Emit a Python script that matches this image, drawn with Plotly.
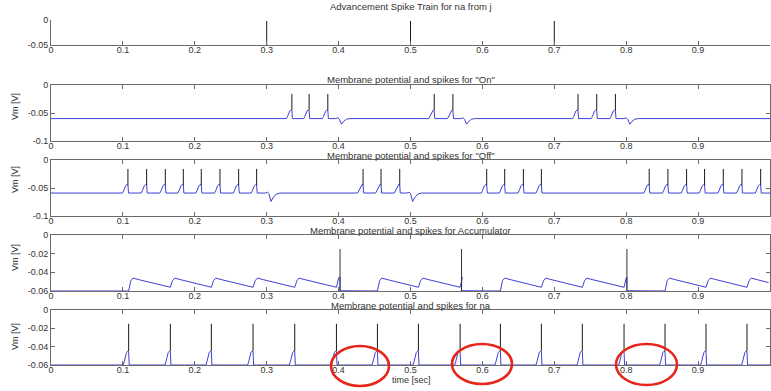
import plotly.graph_objects as go

# ------------------------------------------------------------------ data
x_tick_vals = [0, 0.1, 0.2, 0.3, 0.4, 0.5, 0.6, 0.7, 0.8, 0.9]
x_tick_text = ["0", "0.1", "0.2", "0.3", "0.4", "0.5", "0.6", "0.7", "0.8", "0.9"]

titles = [
    "Advancement Spike Train for na from j",
    "Membrane potential and spikes for \"On\"",
    "Membrane potential and spikes for \"Off\"",
    "Membrane potential and spikes for Accumulator",
    "Membrane potential and spikes for na",
]

adv_spikes = [0.3, 0.5, 0.7]

on_spikes = [0.335, 0.359, 0.385, 0.533, 0.559, 0.733, 0.759, 0.785]
on_dips = [0.404, 0.578, 0.805]

off_spikes = [0.107, 0.133, 0.159, 0.184, 0.209, 0.235, 0.261, 0.286,
              0.434, 0.459, 0.485,
              0.606, 0.631, 0.657, 0.682,
              0.832, 0.858, 0.884, 0.909, 0.935, 0.961, 0.987]
off_dips = [0.306, 0.503]

na_spikes = [0.108, 0.166, 0.223, 0.281, 0.339, 0.397, 0.454, 0.511,
             0.569, 0.625, 0.682, 0.739, 0.797, 0.854, 0.911, 0.968]
na_hump_start = [0.415, 0.589, 0.815]
na_hump_end = [0.437, 0.610, 0.846]

acc_spikes = [0.402, 0.571, 0.801]

# levels
rest_v = -0.06
adv_base, adv_top = -0.05, -0.002
onoff_spike_top = -0.016
acc_spike_top = -0.015
na_spike_top = -0.015
bump_peak = -0.045

# waveform shapes (offsets from event time, values)
bump_dt = [-0.0075, -0.006, -0.0045, -0.003, -0.0015, 0.0, 0.0008]
bump_v = [-0.060, -0.056, -0.050, -0.0465, -0.045, -0.0455, -0.060]
dip_dt = [-0.008, -0.005, -0.003, 0.0, 0.003, 0.007, 0.012]
on_dip_v = [-0.060, -0.0585, -0.061, -0.070, -0.065, -0.061, -0.060]
off_dip_v = [-0.059, -0.0575, -0.060, -0.074, -0.067, -0.061, -0.059]
acc_dt = [0.003, 0.006, 0.015, 0.03, 0.045, 0.054]
acc_v = [-0.049, -0.0462, -0.048, -0.051, -0.054, -0.0558]
acc_valley = -0.056
acc_reset = -0.0597
hump_v = -0.0593

# ------------------------------------------------------------------ builders
def trace_from_events(base, events):
    events = sorted(events, key=lambda e: e[0])
    xs, ys = [0.0], [base]
    for t0, dts, vs in events:
        for dt, v in zip(dts, vs):
            xs.append(t0 + dt)
            ys.append(v)
    xs.append(1.0)
    ys.append(base)
    return xs, ys


def spike_lines(times, lo, hi):
    xs, ys = [], []
    for t in times:
        xs += [t, t, None]
        ys += [lo, hi, None]
    return xs, ys


on_x, on_y = trace_from_events(
    rest_v,
    [(t, bump_dt, bump_v) for t in on_spikes] + [(t, dip_dt, on_dip_v) for t in on_dips])

off_bump_v = [v + 0.001 for v in bump_v]
off_x, off_y = trace_from_events(
    -0.059,
    [(t, bump_dt, off_bump_v) for t in off_spikes] + [(t, dip_dt, off_dip_v) for t in off_dips])

na_events = [(t, bump_dt, bump_v) for t in na_spikes]
for a, b in zip(na_hump_start, na_hump_end):
    na_events.append((a, [0.0, 0.002, b - a - 0.002, b - a],
                      [rest_v, hump_v, hump_v, rest_v]))
na_x, na_y = trace_from_events(rest_v, na_events)

# accumulator
acc_x, acc_y = [0.0], [rest_v]
level = rest_v
for i, r in enumerate(na_spikes):
    nxt = na_spikes[i + 1] if i + 1 < len(na_spikes) else 1.0
    acc_x.append(r)
    acc_y.append(level)
    fire = [s for s in acc_spikes if r <= s < nxt]
    if fire:
        s = fire[0]
        acc_x += [r + 0.003, s, s, s + 0.038, s + 0.0385, nxt]
        acc_y += [acc_v[1] + 0.0003, bump_peak, acc_reset, acc_reset, rest_v, rest_v]
        level = rest_v
    else:
        for dt, v in zip(acc_dt, acc_v):
            if r + dt <= 1.0:
                acc_x.append(r + dt)
                acc_y.append(v)
        if nxt < 1.0:
            acc_x.append(nxt)
            acc_y.append(acc_valley)
        level = acc_valley

# ------------------------------------------------------------------ figure
W, H = 771, 391
ML, MR = 51, 1
PW = W - ML - MR

# subplot vertical extents in pixels (top, bottom)
px_dom = [(20, 45), (85, 141), (160, 216), (235, 291), (310, 365)]
y_ranges = [[-0.05, 0], [-0.1, 0], [-0.1, 0], [-0.06, 0], [-0.06, 0]]
y_ticks = [[-0.05, 0], [-0.1, -0.05, 0], [-0.1, -0.05, 0],
           [-0.06, -0.04, -0.02, 0], [-0.06, -0.04, -0.02, 0]]
y_ticktext = [["-0.05", "0"], ["-0.1", "-0.05", "0"], ["-0.1", "-0.05", "0"],
              ["-0.06", "-0.04", "-0.02", "0"], ["-0.06", "-0.04", "-0.02", "0"]]
title_cy = [7, 80, 155, 230, 305]
ylab_cy = [None, 107, 180, 258, 337]


def py(p):
    return 1 - p / H


def pxp(p):
    return (p - ML) / PW


BLUE = "#3f3fd6"
BLACK = "#1a1a1a"
AX = "#6a6a6a"
TXT = "#333333"
FONT = "Liberation Sans, Arial, Helvetica, sans-serif"

fig = go.Figure()


def add(x, y, idx, color, width=1.0):
    fig.add_trace(go.Scatter(x=x, y=y, mode="lines",
                             line=dict(color=color, width=width),
                             xaxis="x" if idx == 1 else f"x{idx}",
                             yaxis="y" if idx == 1 else f"y{idx}",
                             hoverinfo="skip", showlegend=False))


sx, sy = spike_lines(adv_spikes, adv_base, adv_top)
add(sx, sy, 1, BLACK)

add(on_x, on_y, 2, BLUE)
sx, sy = spike_lines(on_spikes, bump_peak, onoff_spike_top)
add(sx, sy, 2, BLACK)

add(off_x, off_y, 3, BLUE)
sx, sy = spike_lines(off_spikes, bump_peak, onoff_spike_top)
add(sx, sy, 3, BLACK)

add(acc_x, acc_y, 4, BLUE)
sx, sy = spike_lines(acc_spikes, rest_v, acc_spike_top)
add(sx, sy, 4, "#333333")

add(na_x, na_y, 5, BLUE)
sx, sy = spike_lines(na_spikes, bump_peak, na_spike_top)
add(sx, sy, 5, BLACK)

layout = dict(
    width=W, height=H,
    margin=dict(l=ML, r=MR, t=0, b=0, pad=0),
    paper_bgcolor="white", plot_bgcolor="white",
    template="none",
    showlegend=False,
    font=dict(family=FONT, size=9, color=TXT),
)

annotations = []
for i in range(5):
    k = i + 1
    xa = "xaxis" if k == 1 else f"xaxis{k}"
    ya = "yaxis" if k == 1 else f"yaxis{k}"
    top, bot = px_dom[i]
    mirror = False if k == 1 else "ticks"
    layout[xa] = dict(
        domain=[0, 1], range=[0, 1], anchor="y" if k == 1 else f"y{k}",
        tickvals=x_tick_vals, ticktext=x_tick_text,
        ticks="inside", ticklen=4, tickcolor=AX, tickwidth=1,
        showline=True, linecolor=AX, linewidth=1, mirror=mirror,
        showgrid=False, zeroline=False, automargin=False,
        ticklabelstandoff=-4,
        tickfont=dict(family=FONT, size=9, color=TXT), fixedrange=True,
    )
    layout[ya] = dict(
        domain=[py(bot), py(top)], range=y_ranges[i],
        anchor="x" if k == 1 else f"x{k}",
        tickvals=y_ticks[i], ticktext=y_ticktext[i],
        ticks="inside", ticklen=4, tickcolor=AX, tickwidth=1,
        showline=True, linecolor=AX, linewidth=1, mirror=mirror,
        showgrid=False, zeroline=False, automargin=False,
        tickfont=dict(family=FONT, size=9, color=TXT), fixedrange=True,
    )
    annotations.append(dict(
        text=titles[i], xref="paper", yref="paper", x=0.5, y=py(title_cy[i]),
        xanchor="center", yanchor="middle", showarrow=False,
        font=dict(family=FONT, size=9.5, color=TXT)))
    if ylab_cy[i] is not None:
        annotations.append(dict(
            text="Vm [V]", xref="paper", yref="paper", x=pxp(15), y=py(ylab_cy[i]),
            xanchor="center", yanchor="middle", textangle=-90, showarrow=False,
            font=dict(family=FONT, size=9, color=TXT)))

annotations.append(dict(
    text="time [sec]", xref="paper", yref="paper", x=pxp(411), y=py(380),
    xanchor="center", yanchor="middle", showarrow=False,
    font=dict(family=FONT, size=9, color=TXT)))

layout["annotations"] = annotations

# red hand-drawn circles (pixel boxes)
circles_px = [(331, 346, 389, 386), (452, 344, 512, 384), (616, 344, 677, 385)]
layout["shapes"] = [
    dict(type="circle", xref="paper", yref="paper",
         x0=pxp(a), x1=pxp(c), y0=py(d), y1=py(b),
         line=dict(color="#e5261b", width=2.6))
    for a, b, c, d in circles_px
]

fig.update_layout(**layout)
fig.write_html("out.html",
               config={"displayModeBar": False, "staticPlot": True},
               post_script="document.body.style.margin='0';document.body.style.overflow='hidden';")
